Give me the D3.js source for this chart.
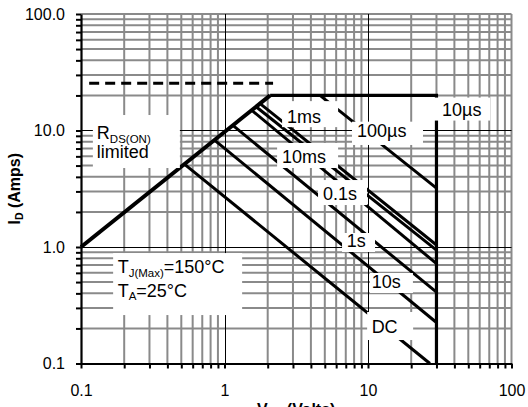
<!DOCTYPE html>
<html>
<head>
<meta charset="utf-8">
<script src="https://cdn.jsdelivr.net/npm/d3@7"></script>
<style>
	body { margin: 0; background: #fff; }
	svg { display: block; font-family: "Liberation Sans", Arial, sans-serif; }
</style>
</head>
<body>
<div id="chart"></div>
<script>
// axis ticks (decades) for V_DS and I_D
const vdsDecades = [0.1, 1, 10, 100];
const idDecades = [0.1, 1, 10, 100];
const xTickLabels = ["0.1", "1", "10", "100"];
const yTickLabels = ["0.1", "1.0", "10.0", "100.0"];

// R_DS(ON) limit and 10us envelope  [V, A]
const rdsLimit = [[0.1, 1.0], [2.08, 20]];
const envelope10us = [[2.08, 20], [30, 20], [30, 0.1]];
const packageLimit = [[0.114, 25.5], [2.18, 25.5]];

// pulse width lines, start on the R_DS(ON) line (or top), end at V_DS max
const pulseNames = ["100µs", "1ms", "10ms", "0.1s", "1s", "10s", "DC"];
const pulseStartV = [4.63, 1.77, 1.66, 1.55, 1.15, 0.86, 0.53];
const pulseStartI = [20, 17.0, 16.0, 14.9, 11.0, 8.2, 5.1];
const pulseEndV = [30, 30, 30, 30, 30, 30, 27];
const pulseEndI = [3.2, 1.04, 0.94, 0.72, 0.41, 0.225, 0.1];

// text boxes: anchor in data units, box relative to text start/baseline in px
const notes = [
	{ lines: [["R", "DS(ON)"], ["limited"]], v: 0.129, i: 8.45, box: [-4, -24, 87, 53], lh: 19 },
	{ lines: [["T", "J(Max)", "=150°C"], ["T", "A", "=25°C"]], v: 0.180, i: 0.594, box: [-4.5, -20.3, 129, 62], lh: 23.4 },
	{ lines: [["1ms"]], v: 2.73, i: 11.5, box: [-5, -22.3, 56, 26] },
	{ lines: [["100µs"]], v: 8.38, i: 8.85, box: [-5, -15, 71, 23.3] },
	{ lines: [["10µs"]], v: 32.8, i: 13.3, box: [-8, -18.5, 56, 23] },
	{ lines: [["10ms"]], v: 2.52, i: 5.23, box: [-5, -20.3, 61, 25] },
	{ lines: [["0.1s"]], v: 4.86, i: 2.53, box: [-5, -20, 49, 25] },
	{ lines: [["1s"]], v: 7.11, i: 0.994, box: [-4.7, -14.3, 33, 19] },
	{ lines: [["10s"]], v: 10.6, i: 0.442, box: [-1.7, -15.3, 43, 20] },
	{ lines: [["DC"]], v: 10.6, i: 0.1816, box: [-4.5, -21.3, 46, 28] }
];

let width = 528, height = 407;
let svg = d3.select("#chart").append("svg")
	.attr("width", width)
	.attr("height", height);

let x = d3.scaleLog().domain([0.1, 100]).range([81, 511.5]);
let y = d3.scaleLog().domain([0.1, 100]).range([363.5, 14]);

// minor values 2..9 of each decade
let minors = [];
vdsDecades.slice(0, 3).forEach(function (d) {
	for (let m = 2; m <= 9; m++) minors.push(+(d * m).toPrecision(3));
});
let allTicks = minors.concat(vdsDecades).sort(d3.ascending);

let grid = svg.append("g");

// gray minor grid and outer gray frame
grid.selectAll(".vmin").data(minors.concat([100])).enter().append("line")
	.attr("x1", d => x(d)).attr("x2", d => x(d))
	.attr("y1", y(0.1)).attr("y2", y(100))
	.attr("stroke", "#8a8a8a").attr("stroke-width", 2);
grid.selectAll(".hmin").data(minors.concat([100])).enter().append("line")
	.attr("y1", d => y(d)).attr("y2", d => y(d))
	.attr("x1", x(0.1)).attr("x2", x(100))
	.attr("stroke", "#8a8a8a").attr("stroke-width", 2);

// black decade lines
grid.selectAll(".vmaj").data([1, 10]).enter().append("line")
	.attr("x1", d => Math.round(x(d)) + 0.5).attr("x2", d => Math.round(x(d)) + 0.5)
	.attr("y1", y(0.1)).attr("y2", y(100))
	.attr("stroke", "#000").attr("stroke-width", 1);
grid.selectAll(".hmaj").data([1, 10]).enter().append("line")
	.attr("y1", d => Math.round(y(d)) + 0.5).attr("y2", d => Math.round(y(d)) + 0.5)
	.attr("x1", x(0.1)).attr("x2", x(100))
	.attr("stroke", "#000").attr("stroke-width", 1);

let line = d3.line()
	.x(function (d) { return x(d[0]); })
	.y(function (d) { return y(d[1]); });

let curves = svg.append("g").attr("fill", "none").attr("stroke", "#000");

curves.append("path").datum(packageLimit)
	.attr("d", line).attr("stroke-width", 3).attr("stroke-dasharray", "10,6");

pulseNames.forEach(function (name, k) {
	curves.append("path")
		.datum([[pulseStartV[k], pulseStartI[k]], [pulseEndV[k], pulseEndI[k]]])
		.attr("class", "pulse")
		.attr("d", line)
		.attr("stroke-width", 3);
});

curves.append("path").datum(envelope10us)
	.attr("d", line).attr("stroke-width", 3.2).attr("stroke-linejoin", "miter");

curves.append("path").datum(rdsLimit)
	.attr("d", line).attr("stroke-width", 4);

// label boxes
let notesG = svg.append("g");
notes.forEach(function (n) {
	let tx = x(n.v), ty = y(n.i);
	notesG.append("rect")
		.attr("x", tx + n.box[0]).attr("y", ty + n.box[1])
		.attr("width", n.box[2]).attr("height", n.box[3])
		.attr("fill", "#fff");
	n.lines.forEach(function (parts, li) {
		let t = notesG.append("text")
			.attr("x", tx).attr("y", ty + li * (n.lh || 0))
			.attr("font-size", 18).attr("fill", "#000");
		parts.forEach(function (p, pi) {
			let sub = parts.length > 1 && pi == 1;
			t.append("tspan")
				.attr("font-size", sub ? 11.5 : 18)
				.attr("dy", sub ? 3.5 : (pi == 2 ? -3.5 : 0))
				.text(p);
		});
	});
});

// axes
let xAxis = d3.axisBottom(x)
	.tickValues(allTicks)
	.tickSize(5).tickSizeOuter(0).tickPadding(16)
	.tickFormat(function (d) { let k = vdsDecades.indexOf(d); return k >= 0 ? xTickLabels[k] : ""; });
let yAxis = d3.axisLeft(y)
	.tickValues(allTicks)
	.tickSize(5).tickSizeOuter(0).tickPadding(11)
	.tickFormat(function (d) { let k = idDecades.indexOf(d); return k >= 0 ? yTickLabels[k] : ""; });

let gx = svg.append("g").attr("transform", "translate(0," + y(0.1) + ")").call(xAxis);
let gy = svg.append("g").attr("transform", "translate(" + x(0.1) + ",0)").call(yAxis);

[gx, gy].forEach(function (g) {
	g.select(".domain").attr("stroke", "#000").attr("stroke-width", 2.2);
	g.selectAll(".tick line").attr("stroke", "#000").attr("stroke-width", 2);
	g.selectAll(".tick text").attr("font-size", 16).attr("fill", "#000")
		.attr("font-family", "Liberation Sans, Arial, sans-serif");
});

// axis titles
let yt = svg.append("text")
	.attr("transform", "translate(20," + ((y(0.1) + y(100)) / 2) + ") rotate(-90)")
	.attr("text-anchor", "middle")
	.attr("font-size", 16).attr("font-weight", "bold");
yt.append("tspan").text("I");
yt.append("tspan").attr("font-size", 10.5).attr("dy", 3).text("D");
yt.append("tspan").attr("dy", -3).text(" (Amps)");

// x title sits below the visible area in the reference, only its top shows
let xt = svg.append("text")
	.attr("x", (x(0.1) + x(100)) / 2).attr("y", 415)
	.attr("text-anchor", "middle")
	.attr("font-size", 16).attr("font-weight", "bold");
xt.append("tspan").text("V");
xt.append("tspan").attr("font-size", 10.5).attr("dy", 3).text("DS");
xt.append("tspan").attr("dy", -3).text(" (Volts)");
</script>
</body>
</html>
